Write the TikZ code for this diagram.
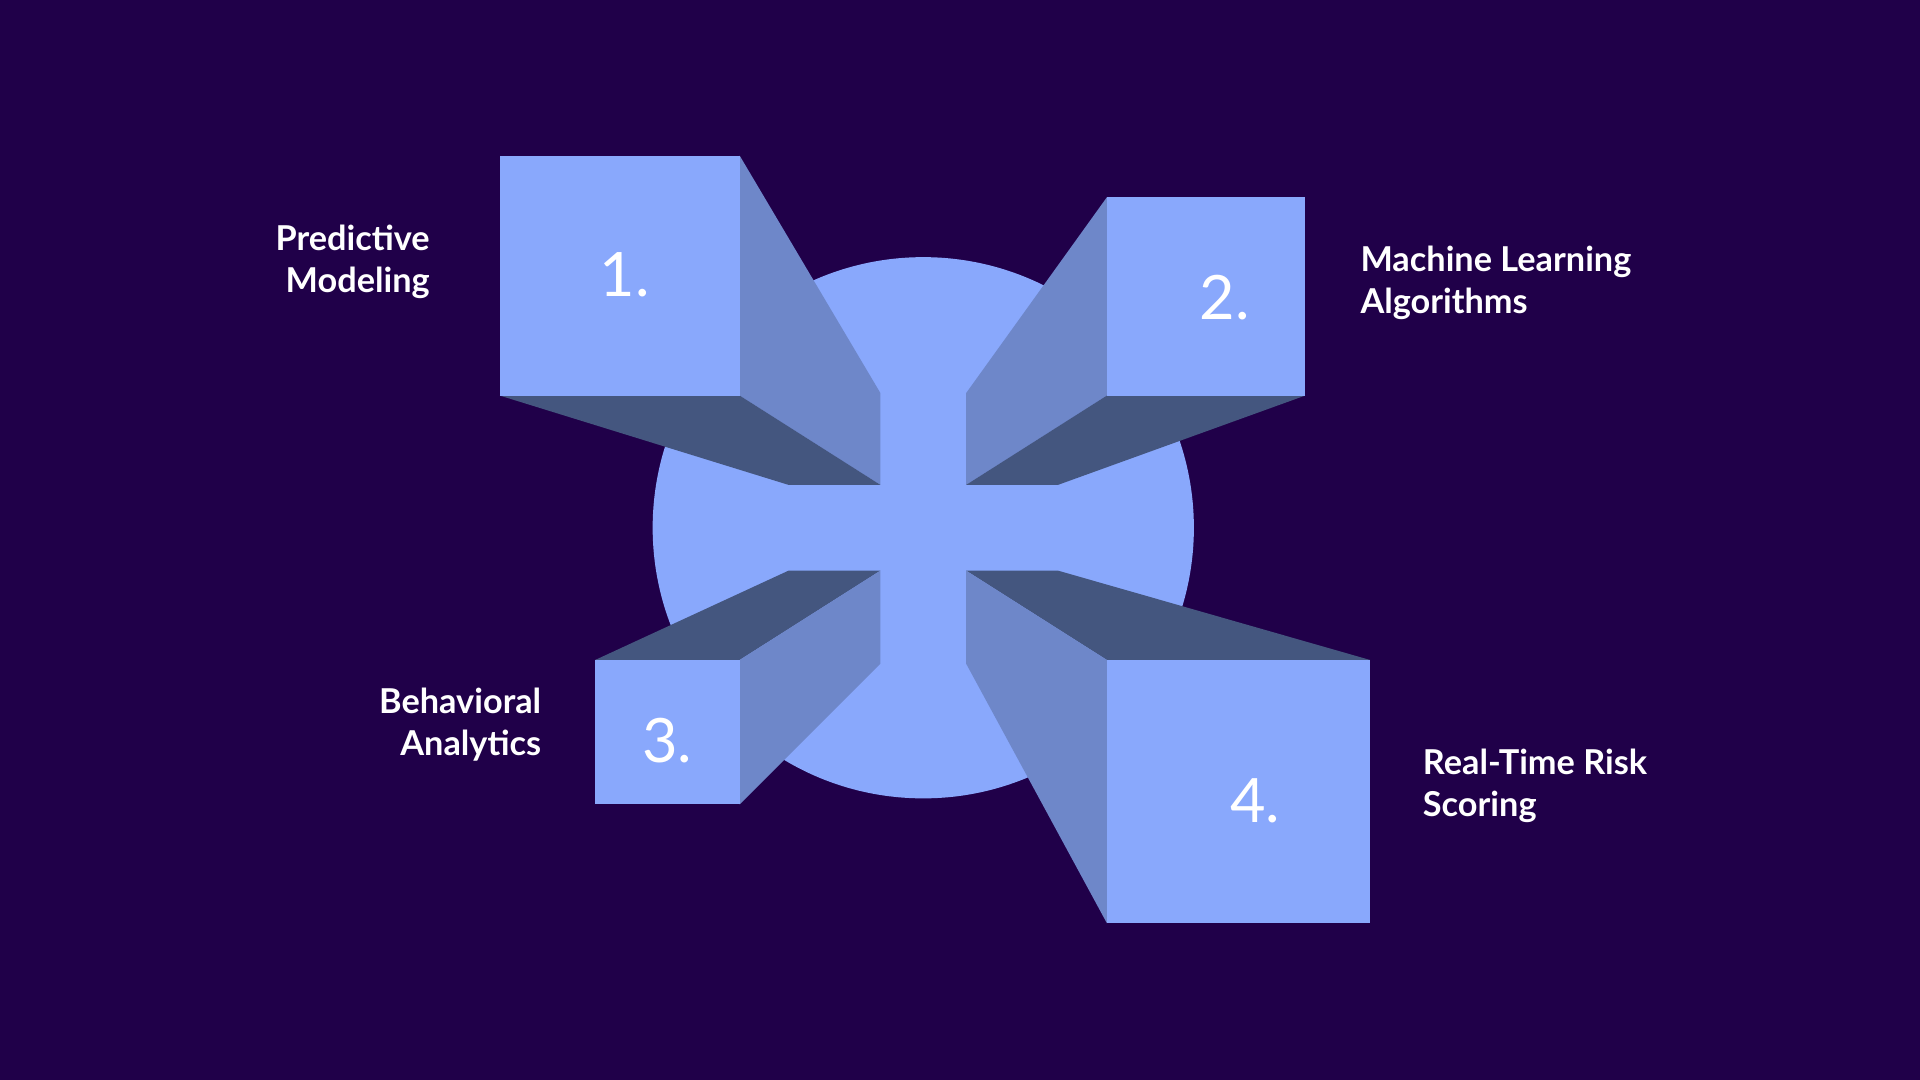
\documentclass[tikz,border=0pt]{standalone}
\usepackage{fontspec}
\setmainfont{Lato}
\definecolor{bg}{HTML}{200049}
\definecolor{lt}{HTML}{89A8FC}
\definecolor{md}{HTML}{6E87C9}
\definecolor{dk}{HTML}{44567F}
\begin{document}
\begin{tikzpicture}[x=0.5pt,y=-0.5pt,
  lbl/.style={text=white,font=\bfseries\fontsize{14}{17}\selectfont,align=#1},
  num/.style={text=white,font=\fontsize{25}{30}\selectfont}]
\fill[bg] (0,0) rectangle (1568,882);
\useasboundingbox (0,0) rectangle (1568,882);
\fill[lt] (754,431) circle[radius=221];
% box 1
\fill[md] (604,127)--(719,321)--(719,396)--(604,323)--cycle;
\fill[dk] (408,323)--(604,323)--(719,396)--(644,396)--cycle;
\fill[lt] (408,127) rectangle (604,323);
% box 2
\fill[md] (904,161)--(789,321)--(789,396)--(904,323)--cycle;
\fill[dk] (904,323)--(1066,323)--(864,396)--(789,396)--cycle;
\fill[lt] (904,161) rectangle (1066,323);
% box 3
\fill[dk] (486,539)--(604,539)--(719,466)--(644,466)--cycle;
\fill[md] (604,539)--(719,466)--(719,542)--(604,657)--cycle;
\fill[lt] (486,539) rectangle (604,657);
% box 4
\fill[dk] (904,539)--(1119,539)--(864,466)--(789,466)--cycle;
\fill[md] (904,539)--(789,466)--(789,542)--(904,754)--cycle;
\fill[lt] (904,539) rectangle (1119,754);
% numbers
\node[num] (n1) at (510,224) {1.};
\node[num] (n2) at (1000,243) {2.};
\node[num] (n3) at (545,605) {3.};
\node[num] (n4) at (1025,654) {4.};
% labels
\node[lbl=right,anchor=east] (l1) at (358,214) {Predictive\\Modeling};
\node[lbl=left,anchor=west] (l2) at (1104,231) {Machine Learning\\Algorithms};
\node[lbl=right,anchor=east] (l3) at (449,592) {Behavioral\\Analytics};
\node[lbl=left,anchor=west] (l4) at (1155,642) {Real-Time Risk\\Scoring};
\end{tikzpicture}
\end{document}
